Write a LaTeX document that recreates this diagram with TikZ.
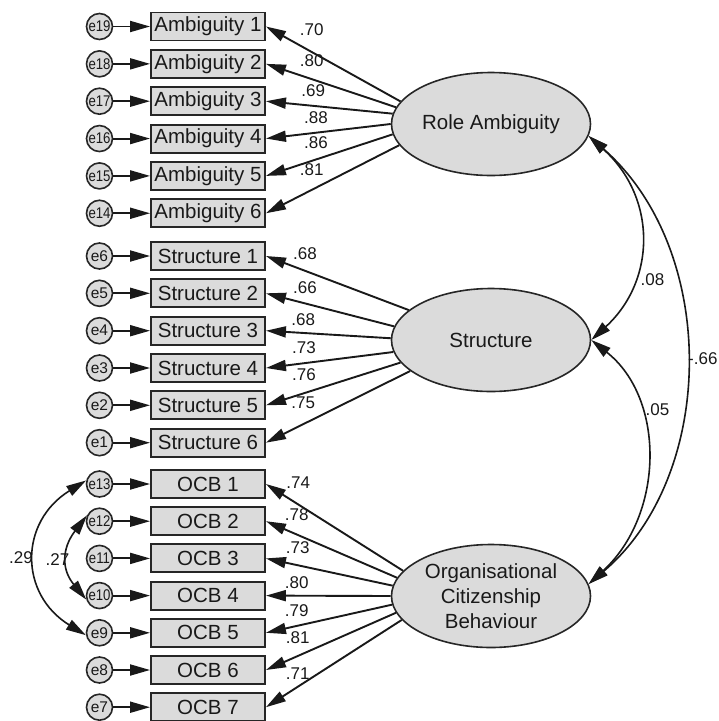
\documentclass[tikz,border=0pt]{standalone}
\usepackage{fontspec}
\setmainfont{Liberation Sans}
\usetikzlibrary{arrows.meta,shapes.geometric}
\begin{document}
\begin{tikzpicture}[x=1pt,y=-1pt,
  obs/.style={draw=black!85, line width=1.9pt, fill=black!14, minimum width=114pt, minimum height=28pt, inner sep=0pt, text=black!90, font=\fontsize{20.5}{24}\selectfont},
  lat/.style={ellipse, draw=black!85, line width=1.6pt, fill=black!14, minimum width=199pt, minimum height=103pt, inner sep=0pt, align=center, text=black!90, font=\fontsize{20.5}{25}\selectfont},
  err/.style={circle, draw=black!85, line width=1.6pt, fill=black!14, minimum size=26pt, inner sep=0pt, text=black!90, font=\fontsize{15.5}{15}\selectfont},
  arr/.style={line width=1.9pt, draw=black!90, -{Triangle[length=20pt,width=11pt]}},
  dbl/.style={line width=1.6pt, draw=black!90, {Triangle[length=20pt,width=11pt]}-{Triangle[length=20pt,width=11pt]}},
  lbl/.style={font=\fontsize{17}{17}\selectfont, inner sep=0pt, text=black!90}]

\useasboundingbox (0,0) rectangle (719,721);

% latent variables
\node[lat] (RA) at (491,124) {Role Ambiguity};
\node[lat] (ST) at (491,340) {Structure};
\node[lat] (OC) at (491,596) {Organisational\\Citizenship\\Behaviour};

% Ambiguity indicators
\foreach \i/\y/\e in {1/26.5/19, 2/63.85/18, 3/101.2/17, 4/138.55/16, 5/175.9/15, 6/213.25/14} {
  \node[obs] (a\i) at (208,\y) {Ambiguity \i};
  \node[err] (e\e) at (99.5,\y) {\scalebox{0.85}[1]{e\e}};
  \draw[arr] (e\e) -- (a\i);
}
% Structure indicators
\foreach \i/\y/\e in {1/256/6, 2/293.3/5, 3/330.7/4, 4/368/3, 5/405.3/2, 6/442.7/1} {
  \node[obs] (s\i) at (208,\y) {Structure \i};
  \node[err] (e\e) at (99.5,\y) {e\e};
  \draw[arr] (e\e) -- (s\i);
}
% OCB indicators
\foreach \i/\y/\e in {1/484/13, 2/521.2/12, 3/558.4/11, 4/595.6/10, 5/632.8/9, 6/670/8, 7/707.2/7} {
  \node[obs] (o\i) at (208,\y) {OCB \i};
  \node[err] (e\e) at (99.5,\y) {\ifnum\e>9 \scalebox{0.85}[1]{e\e}\else e\e\fi};
  \draw[arr] (e\e) -- (o\i);
}

% loadings
\foreach \i/\a in {1/166, 2/170, 3/174.5, 4/180.5, 5/186.5, 6/193}
  \draw[arr] (RA.\a) -- (a\i.east);
\foreach \i/\a in {1/160, 2/172.5, 3/179, 4/187, 5/194, 6/201.5}
  \draw[arr] (ST.\a) -- (s\i.east);
\foreach \i/\a in {1/164.5, 2/169.5, 3/174, 4/180, 5/185.5, 6/190, 7/195.5}
  \draw[arr] (OC.\a) -- (o\i.east);

% loading labels
\node[lbl] (l1) at (311.7,29.3) {.70};
\node[lbl] (l2) at (311.7,61) {.80};
\node[lbl] (l3) at (313.3,90.7) {.69};
\node[lbl] (l4) at (316,117.3) {.88};
\node[lbl] (l5) at (316,142.7) {.86};
\node[lbl] (l6) at (311.7,170) {.81};
\node[lbl] (l7) at (305,253.3) {.68};
\node[lbl] (l8) at (305,287.3) {.66};
\node[lbl] (l9) at (303.3,319.3) {.68};
\node[lbl] (l10) at (304,347.3) {.73};
\node[lbl] (l11) at (304,375) {.76};
\node[lbl] (l12) at (303.3,402.7) {.75};
\node[lbl] (l13) at (298.3,482.7) {.74};
\node[lbl] (l14) at (296.7,514.3) {.78};
\node[lbl] (l15) at (297.7,547.3) {.73};
\node[lbl] (l16) at (296.7,582.3) {.80};
\node[lbl] (l17) at (296.7,610.7) {.79};
\node[lbl] (l18) at (297.7,637.7) {.81};
\node[lbl] (l19) at (297.7,673.3) {.71};

% latent covariances
\draw[dbl] (RA.-7.5) .. controls (656.7,197) and (656.7,280) .. (ST.0);
\draw[dbl] (ST.0) .. controls (666,399) and (664,515) .. (OC.7);
\draw[dbl] (RA.-7.5) .. controls (719,250) and (717,475) .. (OC.7);
\node[lbl] (c1) at (652.5,280) {.08};
\node[lbl] (c2) at (657.5,410) {.05};
\node[lbl, anchor=west] (c3) at (688,359) {-.66};

% error covariances
\draw[dbl] (e13.165) .. controls (19,522) and (19,594) .. (e9.190);
\draw[dbl] (e12.155) .. controls (62,548) and (61,569) .. (e10.197);
\node[lbl] (c4) at (21,558) {.29};
\node[lbl] (c5) at (57.5,560) {.27};
\end{tikzpicture}
\end{document}
